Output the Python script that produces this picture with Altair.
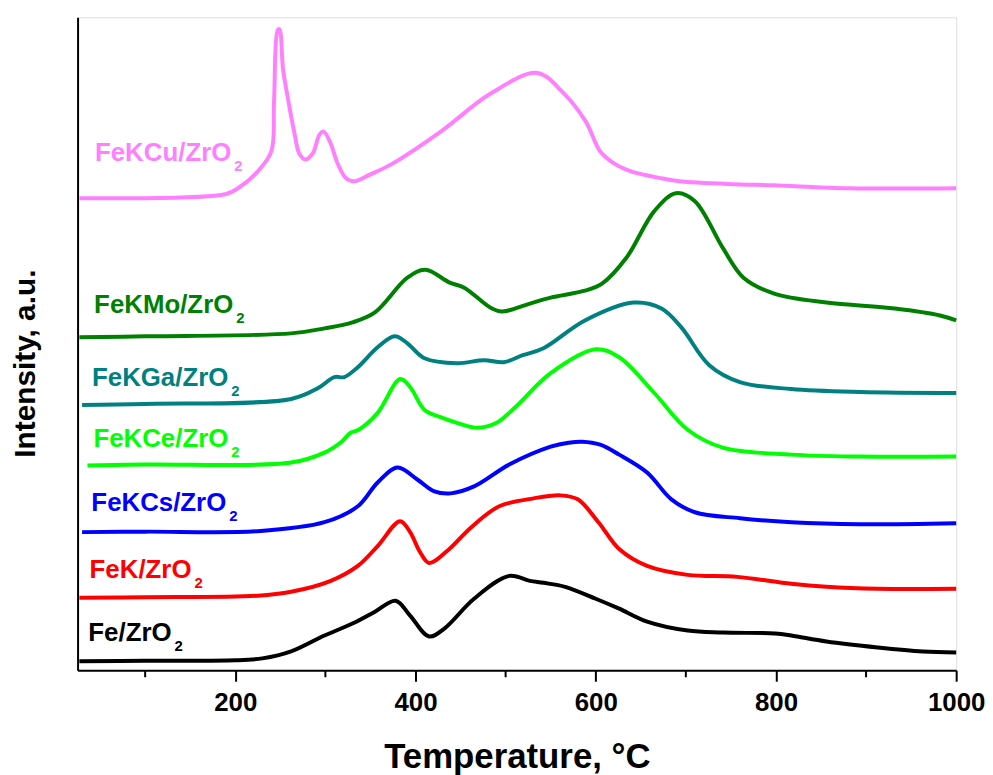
import altair as alt
import pandas as pd

# ---- data (temperature in °C, intensity in a.u. incl. stacking offset) ----
series_names = ["FeKCu/ZrO2", "FeKMo/ZrO2", "FeKGa/ZrO2", "FeKCe/ZrO2", "FeKCs/ZrO2", "FeK/ZrO2", "Fe/ZrO2"]
series_colors = ["#FF80FF", "#008000", "#008080", "#00FF00", "#0000FF", "#FF0000", "#000000"]

fe_T = [27, 100, 200, 230, 262, 299, 330, 355, 378, 394, 415, 432, 465, 504, 527, 542, 566, 600, 626, 657, 702, 741, 799, 817, 856, 913, 963, 1000]
fe_I = [9, 9.5, 10, 12, 19, 35, 47, 59, 70, 55, 34, 42, 72, 95, 90, 88, 84, 72, 62, 49, 40, 38, 37, 35, 29, 23, 19, 18]

fek_T = [27, 100, 225, 262, 306, 336, 358, 383, 394, 405, 415, 435, 462, 493, 531, 561, 580, 603, 626, 657, 702, 757, 817, 856, 913, 1000]
fek_I = [73, 73.5, 75, 79, 90, 105, 125, 150, 139, 119, 108, 120, 144, 165, 173, 176, 172, 149, 122, 105, 96, 94, 87, 84, 82, 82]

fekcs_T = [30, 100, 225, 299, 336, 358, 380, 402, 421, 439, 465, 504, 550, 570, 585, 605, 626, 657, 684, 710, 760, 817, 893, 1000]
fekcs_I = [139, 139.5, 140, 149, 165, 189, 204, 192, 180, 178, 185, 207, 225, 229, 230, 227, 217, 199, 172, 159, 153, 149, 147, 148]

fekce_T = [36, 100, 262, 299, 318, 328, 337, 358, 383, 394, 410, 427, 446, 469, 490, 511, 550, 600, 626, 665, 702, 741, 817, 893, 1000]
fekce_I = [206, 207, 209, 219, 230, 239, 242, 259, 293, 285, 262, 255, 249, 244, 249, 265, 299, 323, 315, 279, 242, 224, 217, 215, 215]

fekga_T = [30, 100, 262, 292, 310, 321, 336, 358, 377, 391, 410, 446, 476, 498, 519, 542, 588, 642, 673, 695, 726, 760, 817, 893, 1000]
fekga_I = [267, 268, 273, 284, 295, 295, 305, 325, 336, 329, 314, 309, 312, 310, 317, 324, 352, 370, 364, 345, 307, 290, 283, 280, 279]

fekmo_T = [27, 100, 262, 299, 330, 355, 391, 411, 438, 454, 483, 496, 527, 550, 588, 607, 634, 665, 689, 710, 741, 764, 798, 856, 932, 982, 1000]
fekmo_I = [335, 336, 339, 344, 350, 360, 395, 403, 390, 385, 365, 361, 369, 375, 382, 389, 415, 462, 480, 472, 425, 395, 379, 370, 364, 357, 352]

fekcu_T = [27, 189, 203, 225, 240, 243, 247, 249, 253, 258.5, 266, 271, 278, 286, 293.5, 298, 305, 314, 323, 332, 350, 373,
           428, 483, 535, 563, 589, 605, 622, 639, 673, 693, 755, 797, 881, 1000]
fekcu_I = [475, 479, 485, 502, 522, 572, 644, 645, 605, 575, 539, 520, 514, 520, 539, 542, 532, 509, 495, 492, 499, 509,
           542, 580, 601, 582, 552, 522, 509, 502, 495, 492, 489, 488, 485, 485]

# labels: text (without subscript), end position of "ZrO" (°C) and baseline (a.u.)
label_text = ["FeKCu/ZrO", "FeKMo/ZrO", "FeKGa/ZrO", "FeKCe/ZrO", "FeKCs/ZrO", "FeK/ZrO", "Fe/ZrO"]
label_T = [195.6, 197.8, 192.3, 192.3, 190.0, 151.4, 129.3]
label_I = [512, 359, 286, 225, 160, 93, 29]

major_ticks = [200, 400, 600, 800, 1000]
minor_ticks = [100, 300, 500, 700, 900]

# ---- build tables ----
curves = [
    ("FeKCu/ZrO2", fekcu_T, fekcu_I),
    ("FeKMo/ZrO2", fekmo_T, fekmo_I),
    ("FeKGa/ZrO2", fekga_T, fekga_I),
    ("FeKCe/ZrO2", fekce_T, fekce_I),
    ("FeKCs/ZrO2", fekcs_T, fekcs_I),
    ("FeK/ZrO2", fek_T, fek_I),
    ("Fe/ZrO2", fe_T, fe_I),
]
rows = []
for name, ts, vs in curves:
    for t, v in zip(ts, vs):
        rows.append({"series": name, "T": t, "I": v})
df = pd.DataFrame(rows)

lab = pd.DataFrame({"series": series_names, "text": label_text, "T": label_T, "I": label_I, "sub": ["2"] * len(label_text)})
minor_df = pd.DataFrame({"T": minor_ticks})

FONT = "Liberation Sans"
color = alt.Color("series:N", scale=alt.Scale(domain=series_names, range=series_colors), legend=None)
xscale = alt.Scale(domain=[25, 1000], nice=False, zero=False)
yscale = alt.Scale(domain=[0, 657], nice=False, zero=False)

lines = alt.Chart(df).mark_line(strokeWidth=4, interpolate="catmull-rom").encode(
    x=alt.X("T:Q", scale=xscale, axis=alt.Axis(
        values=major_ticks, format="d", labelFlush=False, title="Temperature, °C", grid=False,
        labelFont=FONT, labelFontSize=26, labelFontWeight="bold", labelColor="black", labelPadding=8,
        tickSize=11, tickWidth=2, tickColor="black", domainColor="black", domainWidth=2,
        titleFont=FONT, titleFontSize=35, titleFontWeight="bold", titleColor="black",
        titleBaseline="alphabetic", titleY=98)),
    y=alt.Y("I:Q", scale=yscale, axis=alt.Axis(
        labels=False, ticks=False, grid=False, title="Intensity, a.u.",
        domainColor="black", domainWidth=2,
        titleFont=FONT, titleFontSize=30, titleFontWeight="bold", titleColor="black",
        titleBaseline="alphabetic", titleX=-43, titleY=348, titleAngle=-90)),
    color=color,
    detail="series:N",
)

minor = alt.Chart(minor_df).mark_rule(color="black", strokeWidth=2).encode(
    x=alt.X("T:Q", scale=xscale), y=alt.value(657), y2=alt.value(664)
)

texts = alt.Chart(lab).mark_text(font=FONT, fontSize=26, fontWeight="bold", align="right", baseline="alphabetic").encode(
    x=alt.X("T:Q", scale=xscale), y=alt.Y("I:Q", scale=yscale), text="text:N", color=color
)
subs = alt.Chart(lab).mark_text(font=FONT, fontSize=15, fontWeight="bold", align="left", baseline="alphabetic", dx=3, dy=10).encode(
    x=alt.X("T:Q", scale=xscale), y=alt.Y("I:Q", scale=yscale), text="sub:N", color=color
)

chart = alt.layer(lines, minor, texts, subs).properties(
    width=884, height=657,
    autosize=alt.AutoSizeParams(type="none"),
    padding={"left": 70, "top": 7, "right": 29, "bottom": 103},
).configure_view(stroke=None).configure(background="white")

chart.save("out.html", embed_options={"renderer": "svg", "actions": False})
